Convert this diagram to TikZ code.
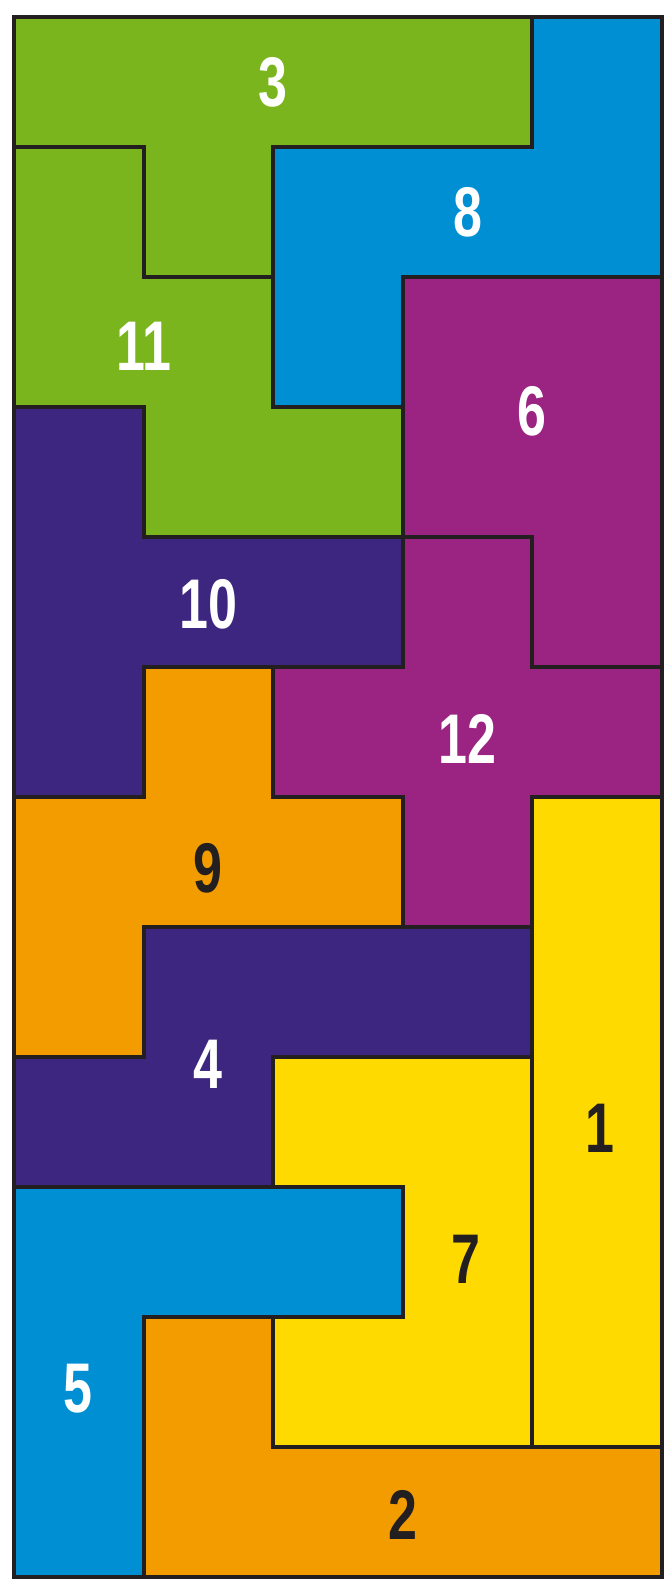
\documentclass[tikz,border=0pt]{standalone}
\usepackage{fontspec}
\newfontfamily\labfont{Liberation Sans}
\definecolor{pgreen}{HTML}{7AB51D}
\definecolor{pblue}{HTML}{008FD3}
\definecolor{pmag}{HTML}{9B2381}
\definecolor{pdark}{HTML}{3D2680}
\definecolor{porange}{HTML}{F39C00}
\definecolor{pyellow}{HTML}{FFDA00}
\definecolor{pline}{HTML}{231F20}
\tikzset{
  piece/.style={draw=pline, line width=1.1pt, line join=miter},
  lab/.style={font=\labfont\bfseries\fontsize{20}{20}\selectfont, xscale=0.74, inner sep=0pt},
  labw/.style={lab, text=white},
  labb/.style={lab, text=pline}
}
\begin{document}
\begin{tikzpicture}
\useasboundingbox[fill=white] (0,0) rectangle (6.64,-15.79);
\begin{scope}[shift={(0.14,-0.17)}, x=1.296cm, y=-1.3cm]
\fill[pgreen,piece] (0,0)--(4,0)--(4,1)--(2,1)--(2,2)--(1,2)--(1,1)--(0,1)--cycle;
\fill[pblue,piece] (4,0)--(5,0)--(5,2)--(3,2)--(3,3)--(2,3)--(2,1)--(4,1)--cycle;
\fill[pgreen,piece] (0,1)--(1,1)--(1,2)--(2,2)--(2,3)--(3,3)--(3,4)--(1,4)--(1,3)--(0,3)--cycle;
\fill[pmag,piece] (3,2)--(5,2)--(5,5)--(4,5)--(4,4)--(3,4)--cycle;
\fill[pdark,piece] (0,3)--(1,3)--(1,4)--(3,4)--(3,5)--(1,5)--(1,6)--(0,6)--cycle;
\fill[pmag,piece] (3,4)--(4,4)--(4,5)--(5,5)--(5,6)--(4,6)--(4,7)--(3,7)--(3,6)--(2,6)--(2,5)--(3,5)--cycle;
\fill[porange,piece] (1,5)--(2,5)--(2,6)--(3,6)--(3,7)--(1,7)--(1,8)--(0,8)--(0,6)--(1,6)--cycle;
\fill[pyellow,piece] (4,6)--(5,6)--(5,11)--(4,11)--cycle;
\fill[pdark,piece] (1,7)--(4,7)--(4,8)--(2,8)--(2,9)--(0,9)--(0,8)--(1,8)--cycle;
\fill[pyellow,piece] (2,8)--(4,8)--(4,11)--(2,11)--(2,10)--(3,10)--(3,9)--(2,9)--cycle;
\fill[pblue,piece] (0,9)--(3,9)--(3,10)--(1,10)--(1,12)--(0,12)--cycle;
\fill[porange,piece] (1,10)--(2,10)--(2,11)--(5,11)--(5,12)--(1,12)--cycle;
\node[labw] (n3) at (2.0,0.5) {3};
\node[labw] (n8) at (3.5,1.5) {8};
\node[labw] (n11) at (1.0,2.53) {11};
\node[labw] (n6) at (4.0,3.03) {6};
\node[labw] (n10) at (1.5,4.52) {10};
\node[labw] (n12) at (3.5,5.55) {12};
\node[labb] (n9) at (1.5,6.55) {9};
\node[labw] (n4) at (1.5,8.06) {4};
\node[labb] (n1) at (4.52,8.55) {1};
\node[labb] (n7) at (3.49,9.56) {7};
\node[labw] (n5) at (0.49,10.55) {5};
\node[labb] (n2) at (3.0,11.52) {2};
\end{scope}
\end{tikzpicture}
\end{document}
